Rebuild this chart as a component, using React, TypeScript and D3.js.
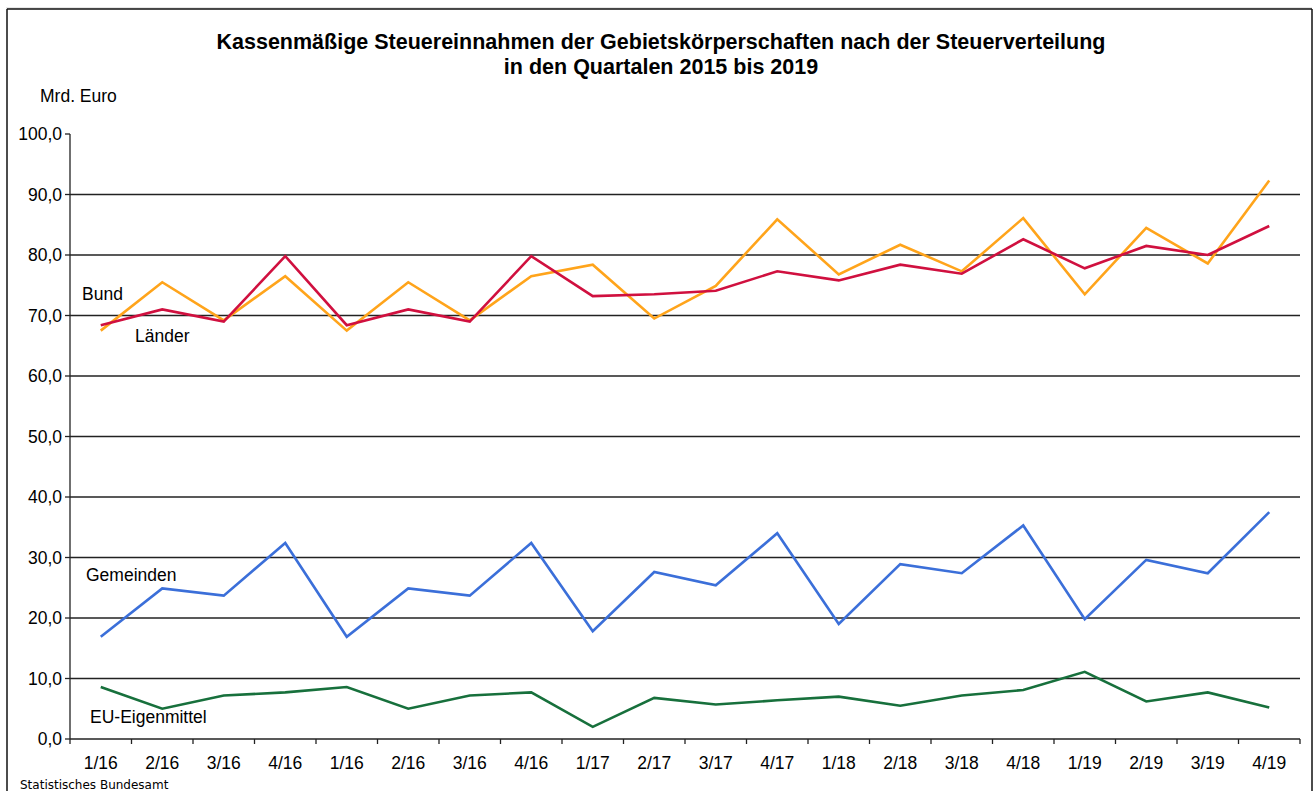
import React from "react";
import * as d3 from "d3";

const categories = ["1/16","2/16","3/16","4/16","1/16","2/16","3/16","4/16","1/17","2/17","3/17","4/17","1/18","2/18","3/18","4/18","1/19","2/19","3/19","4/19"];
const bund = [67.5,75.5,69.2,76.5,67.5,75.5,69.2,76.5,78.4,69.5,74.9,85.9,76.8,81.7,77.3,86.1,73.5,84.5,78.6,92.3];
const laender = [68.4,71.0,69.0,79.8,68.4,71.0,69.0,79.8,73.2,73.5,74.1,77.3,75.8,78.4,76.9,82.6,77.8,81.5,80.0,84.8];
const gemeinden = [16.9,24.9,23.7,32.4,16.9,24.9,23.7,32.4,17.8,27.6,25.4,34.0,19.0,28.9,27.4,35.3,19.8,29.6,27.4,37.5];
const euEigenmittel = [8.6,5.0,7.2,7.7,8.6,5.0,7.2,7.7,2.0,6.8,5.7,6.4,7.0,5.5,7.2,8.1,11.1,6.2,7.7,5.2];
const yTicks = [0,10,20,30,40,50,60,70,80,90,100];

const series = [
  { name: "Bund", values: bund, color: "#FFA41B" },
  { name: "Länder", values: laender, color: "#D0103F" },
  { name: "Gemeinden", values: gemeinden, color: "#3B6FD9" },
  { name: "EU-Eigenmittel", values: euEigenmittel, color: "#17703C" },
];

export default function App() {
  const W = 1314, H = 791;
  const left = 70, right = 1300, top = 134, bottom = 739;
  const x = d3.scaleBand<number>().domain(d3.range(categories.length)).range([left, right]);
  const y = d3.scaleLinear().domain([0, 100]).range([bottom, top]);
  const cx = (i: number) => (x(i) as number) + x.bandwidth() / 2;
  const line = d3.line<number>().x((_, i) => cx(i)).y((v) => y(v));
  const font = "Arial, 'Liberation Sans', sans-serif";
  const fmt = (v: number) => v.toFixed(1).replace(".", ",");
  const boundaries = d3.range(categories.length + 1).map((i) => left + i * x.bandwidth());
  const fs = 17.5;

  return (
    <svg width={W} height={H} style={{ position: "absolute", left: 0, top: 0, display: "block" }}>
      <rect x={0} y={0} width={W} height={H} fill="#fff" />
      {/* outer frame */}
      <line x1={6} y1={8} x2={1312} y2={8} stroke="#d0d0d0" strokeWidth={1} />
      <line x1={7} y1={9} x2={1312} y2={9} stroke="#111" strokeWidth={1.5} />
      <line x1={7} y1={9} x2={7} y2={H} stroke="#111" strokeWidth={1.5} />
      <line x1={1312} y1={9} x2={1312} y2={H} stroke="#111" strokeWidth={1.5} />

      <text x={661} y={49} textAnchor="middle" fontFamily={font} fontWeight="bold" fontSize={21.5} fill="#000">
        Kassenmäßige Steuereinnahmen der Gebietskörperschaften nach der Steuerverteilung
      </text>
      <text x={661} y={74} textAnchor="middle" fontFamily={font} fontWeight="bold" fontSize={21.5} fill="#000">
        in den Quartalen 2015 bis 2019
      </text>
      <text x={40} y={102} fontFamily={font} fontSize={fs} fill="#000">Mrd. Euro</text>

      {/* gridlines */}
      {yTicks.filter((t) => t > 0 && t < 100).map((t) => (
        <line key={"g" + t} x1={left} x2={right} y1={y(t)} y2={y(t)} stroke="#222" strokeWidth={1.3} />
      ))}
      {/* y axis */}
      <line x1={left} x2={left} y1={top} y2={bottom} stroke="#222" strokeWidth={1.3} />
      {yTicks.map((t) => (
        <g key={"t" + t}>
          <line x1={left - 5} x2={left} y1={y(t)} y2={y(t)} stroke="#222" strokeWidth={1.3} />
          <text x={left - 8} y={y(t) + 6} textAnchor="end" fontFamily={font} fontSize={fs} fill="#000">{fmt(t)}</text>
        </g>
      ))}
      {/* x axis */}
      <line x1={left} x2={right} y1={bottom} y2={bottom} stroke="#222" strokeWidth={1.3} />
      {boundaries.map((bx, i) => (
        <line key={"b" + i} x1={bx} x2={bx} y1={bottom} y2={bottom + 5} stroke="#222" strokeWidth={1.3} />
      ))}
      {categories.map((c, i) => (
        <text key={"c" + i} x={cx(i)} y={bottom + 30} textAnchor="middle" fontFamily={font} fontSize={fs} fill="#000">{c}</text>
      ))}

      {series.map((s) => (
        <path key={s.name} d={line(s.values) || ""} fill="none" stroke={s.color} strokeWidth={2.6} strokeLinejoin="miter" />
      ))}

      <text x={82} y={300} fontFamily={font} fontSize={fs} fill="#000">Bund</text>
      <text x={135} y={342} fontFamily={font} fontSize={fs} fill="#000">Länder</text>
      <text x={86} y={581} fontFamily={font} fontSize={fs} fill="#000">Gemeinden</text>
      <text x={90} y={723} fontFamily={font} fontSize={fs} fill="#000">EU-Eigenmittel</text>

      <text x={20} y={789} fontFamily="'DejaVu Sans', Verdana, sans-serif" fontSize={12} fill="#000">Statistisches Bundesamt</text>
    </svg>
  );
}
